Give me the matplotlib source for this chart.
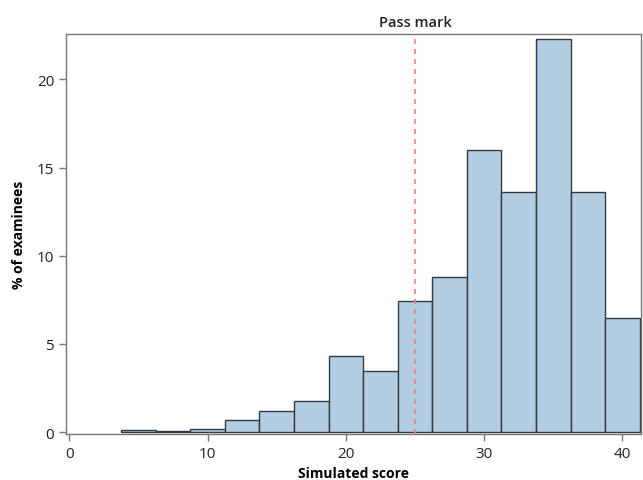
import numpy as np
import matplotlib
matplotlib.use("Agg")
import matplotlib.pyplot as plt

plt.rcParams['font.family'] = ['Open Sans', 'DejaVu Sans']

# histogram bins (score), width 2.5
bin_edges = [3.75, 6.25, 8.75, 11.25, 13.75, 16.25, 18.75, 21.25, 23.75,
             26.25, 28.75, 31.25, 33.75, 36.25, 38.75, 41.25]
pct_examinees = [0.12, 0.04, 0.2, 0.68, 1.17, 1.78, 4.31, 3.46, 7.43,
                 8.79, 16.0, 13.6, 22.3, 13.6, 6.47]
pass_mark = 25
x_ticks = [0, 10, 20, 30, 40]
y_ticks = [0, 5, 10, 15, 20]

fig = plt.figure(figsize=(6.43, 4.81), dpi=100)
ax = fig.add_axes([0.1026, 0.0956, 0.8943, 0.8316])

edges = np.array(bin_edges)
ax.bar(edges[:-1], pct_examinees, width=np.diff(edges), align='edge',
       color='#b3cde3', edgecolor='#2f3a44', linewidth=1.0, zorder=2)

ax.axvline(pass_mark, color='#f08080', linestyle=(0, (3, 3)), linewidth=1.2, zorder=3)
ax.text(pass_mark, 1.012, 'Pass mark', transform=ax.get_xaxis_transform(),
        ha='center', va='bottom', fontsize=10.5, fontweight='semibold', color='#222222')

ax.set_xlim(-0.25, 41.35)
ax.set_ylim(-0.11, 22.57)
ax.set_xticks(x_ticks)
ax.set_yticks(y_ticks)

for s in ax.spines.values():
    s.set_color('#777777')
    s.set_linewidth(1.0)
ax.tick_params(direction='out', length=5, width=1, color='#777777',
               labelsize=11, labelcolor='#222222')

ax.set_xlabel('Simulated score', fontsize=10, fontweight='bold', labelpad=4)
ax.set_ylabel('% of examinees', fontsize=10, fontweight='bold', labelpad=8)

fig.savefig('out.png', dpi=100)
